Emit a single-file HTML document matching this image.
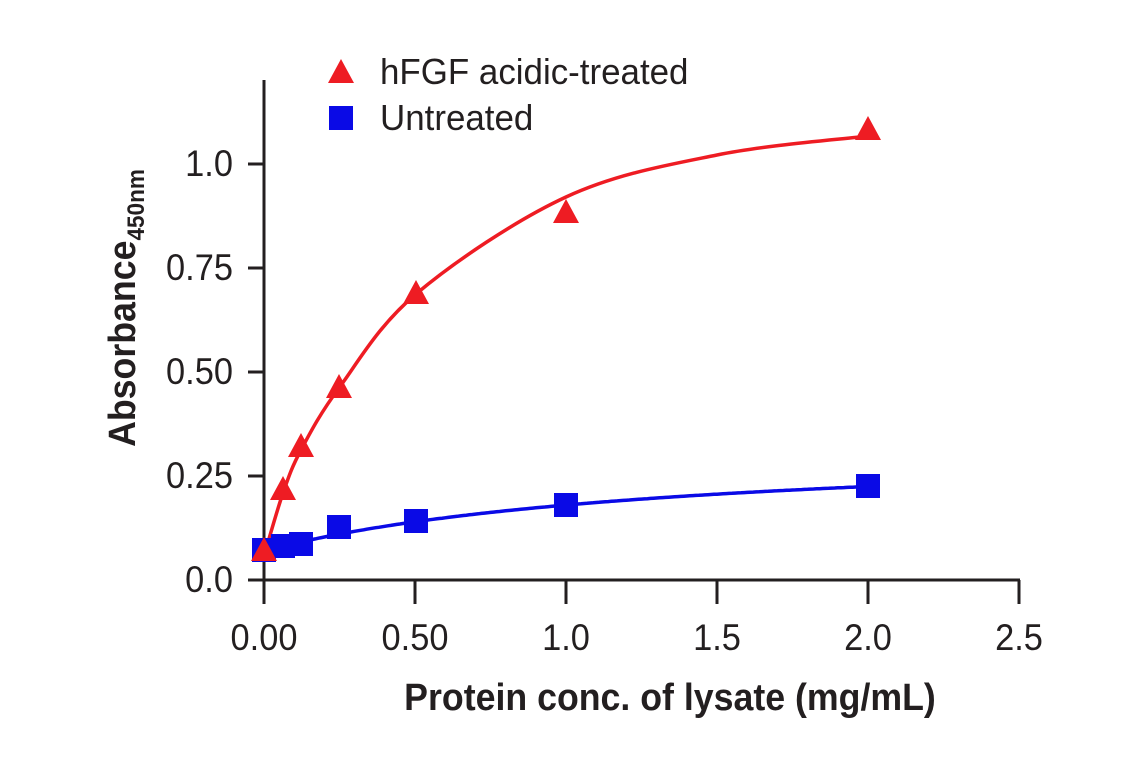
<!DOCTYPE html>
<html><head><style>
html,body{margin:0;padding:0;background:#fff;}
svg text{font-family:"Liberation Sans",sans-serif;fill:#231f20;}
</style></head><body>
<svg id="s" width="1141" height="768" xmlns="http://www.w3.org/2000/svg">
<g stroke="#231f20" stroke-width="3" fill="none">
<line x1="264" y1="80" x2="264" y2="581"/>
<line x1="262.5" y1="580" x2="1020" y2="580"/>
<line x1="248" y1="580" x2="264" y2="580"/>
<line x1="248" y1="476" x2="264" y2="476"/>
<line x1="248" y1="372" x2="264" y2="372"/>
<line x1="248" y1="268" x2="264" y2="268"/>
<line x1="248" y1="164" x2="264" y2="164"/>
<line x1="264" y1="580" x2="264" y2="604"/>
<line x1="415" y1="580" x2="415" y2="604"/>
<line x1="566" y1="580" x2="566" y2="604"/>
<line x1="717" y1="580" x2="717" y2="604"/>
<line x1="868" y1="580" x2="868" y2="604"/>
<line x1="1019" y1="580" x2="1019" y2="604"/>
</g>
<g font-size="37" text-anchor="end">
<text transform="translate(233,592) scale(0.93,1)">0.0</text>
<text transform="translate(233,488) scale(0.93,1)">0.25</text>
<text transform="translate(233,384) scale(0.93,1)">0.50</text>
<text transform="translate(233,280) scale(0.93,1)">0.75</text>
<text transform="translate(233,176) scale(0.93,1)">1.0</text>
</g>
<g font-size="37" text-anchor="middle">
<text transform="translate(264,650) scale(0.93,1)">0.00</text>
<text transform="translate(415,650) scale(0.93,1)">0.50</text>
<text transform="translate(566,650) scale(0.93,1)">1.0</text>
<text transform="translate(717,650) scale(0.93,1)">1.5</text>
<text transform="translate(868,650) scale(0.93,1)">2.0</text>
<text transform="translate(1019,650) scale(0.93,1)">2.5</text>
</g>
<text transform="translate(670,710) scale(0.94,1)" font-size="38" font-weight="bold" text-anchor="middle">Protein conc. of lysate (mg/mL)</text>
<text transform="translate(135,308) rotate(-90) scale(0.94,1)" font-size="38" font-weight="bold" text-anchor="middle">Absorbance<tspan font-size="24" dy="9">450nm</tspan></text>
<path id="red" fill="none" stroke="#ee1c23" stroke-width="3.5"/>
<path id="blue" fill="none" stroke="#0a0ae6" stroke-width="3.5"/>
<g id="pts"></g>
<polygon points="341,59 354,83 328,83" fill="#ee1c23"/>
<rect x="329" y="106" width="24" height="24" fill="#0a0ae6"/>
<text transform="translate(380,84) scale(0.97,1)" font-size="36">hFGF acidic-treated</text>
<text transform="translate(380,130) scale(0.97,1)" font-size="36">Untreated</text>
</svg>
<script>
function px(x){return 264+x*302}function py(y){return 580-y*416}
function curve(b,V,K){var d="";for(var i=0;i<=200;i++){var x=i*0.01;var y=b+V*x/(K+x);d+=(i?"L":"M")+px(x).toFixed(1)+","+py(y).toFixed(1);}return d;}
function spline(P){var d="M"+P[0][0]+","+P[0][1];for(var i=0;i<P.length-1;i++){var p0=P[i>0?i-1:i],p1=P[i],p2=P[i+1],p3=P[i+2<P.length?i+2:i+1];
var c1x=p1[0]+(p2[0]-p0[0])/6,c1y=p1[1]+(p2[1]-p0[1])/6,c2x=p2[0]-(p3[0]-p1[0])/6,c2y=p2[1]-(p3[1]-p1[1])/6;
d+="C"+c1x.toFixed(1)+","+c1y.toFixed(1)+" "+c2x.toFixed(1)+","+c2y.toFixed(1)+" "+p2[0]+","+p2[1];}return d;}
document.getElementById("red").setAttribute("d",spline([[264,556],[283,493],[301,450],[339,388],[416,294],[566,197],[717,155],[868,136]]));
document.getElementById("blue").setAttribute("d",curve(0.07,0.26,1.36));
var g=document.getElementById("pts"),h="";
[[264,550],[283,546],[301,544],[339,527],[416,521],[566,505],[868,486]].forEach(function(p){h+='<rect x="'+(p[0]-12)+'" y="'+(p[1]-12)+'" width="24" height="24" fill="#0a0ae6"/>';});
[[264,551],[283,490],[301,447],[339,388],[416,294],[566,213],[868,130]].forEach(function(p){h+='<polygon points="'+p[0]+','+(p[1]-14)+' '+(p[0]+13)+','+(p[1]+10)+' '+(p[0]-13)+','+(p[1]+10)+'" fill="#ee1c23"/>';});
g.innerHTML=h;
</script>
</body></html>
